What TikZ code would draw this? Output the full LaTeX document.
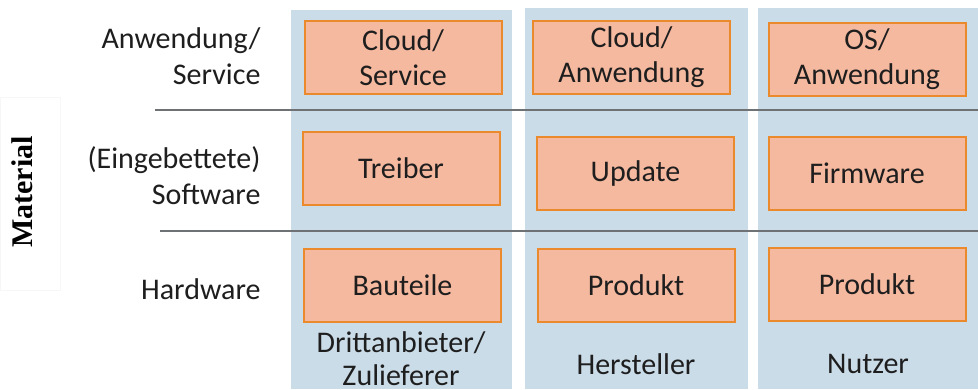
\documentclass[tikz,border=0pt]{standalone}
\usepackage{fontspec}
\setmainfont{Carlito}
\newfontfamily\serifbold{Liberation Serif}
\definecolor{colblue}{HTML}{CBDCE9}
\definecolor{boxfill}{HTML}{F5B9A0}
\definecolor{boxline}{HTML}{EA8A2C}
\definecolor{sepline}{HTML}{6E7275}
\definecolor{txt}{HTML}{1E1E1E}
\begin{document}
\begin{tikzpicture}[x=1pt,y=-1pt,
  colbg/.style={fill=colblue,draw=none},
  cellbox/.style={draw=boxline,line width=2pt,fill=boxfill,minimum width=197pt,minimum height=73pt,align=center,text=txt,font=\fontsize{30}{35}\selectfont,inner sep=0pt},
  rowlabel/.style={anchor=east,align=right,text=txt,font=\fontsize{30}{36}\selectfont},
  collabel/.style={align=center,text=txt,font=\fontsize{30}{33}\selectfont},
  sep/.style={draw=sepline,line width=2pt}]
\useasboundingbox (0,0) rectangle (978,389);
\fill[white] (0,0) rectangle (978,389);
% column backgrounds
\path[colbg] (291,10) rectangle (512,389);
\path[colbg] (525,8) rectangle (748,389);
\path[colbg] (758,8) rectangle (978,389);
% faint frame around Material
\draw[black!3,line width=0.8pt] (0,97) rectangle (60,290);
% separators
\coordinate (s1a) at (155,110); \coordinate (s1b) at (978,110);
\coordinate (s2a) at (160,231); \coordinate (s2b) at (978,231);
\draw[sep] (s1a) -- (s1b);
\draw[sep] (s2a) -- (s2b);
% side label
\node[rotate=90,font=\serifbold\bfseries\fontsize{30}{32}\selectfont,text=black] (mat) at (22,192) {Material};
% row labels
\node[rowlabel] (r1) at (264,56) {Anwendung/\\Service};
\node[rowlabel] (r2) at (264,176) {(Eingebettete)\\Software};
\node[rowlabel] (r3) at (264,289) {Hardware};
% boxes
\node[cellbox] (b11) at (403,57.5) {Cloud/\\Service};
\node[cellbox] (b21) at (401,168.5) {Treiber};
\node[cellbox] (b31) at (402.5,285) {Bauteile};
\node[cellbox] (b12) at (631.5,57) {Cloud/\\Anwendung};
\node[cellbox] (b22) at (635.5,173) {Update};
\node[cellbox] (b32) at (636,285) {Produkt};
\node[cellbox] (b13) at (867,59) {OS/\\Anwendung};
\node[cellbox] (b23) at (867,173) {Firmware};
\node[cellbox] (b33) at (867,284) {Produkt};
% column labels
\node[collabel] (c1) at (401,359) {Drittanbieter/\\Zulieferer};
\node[collabel] (c2) at (636,364) {Hersteller};
\node[collabel] (c3) at (868,364) {Nutzer};
\end{tikzpicture}
\end{document}
